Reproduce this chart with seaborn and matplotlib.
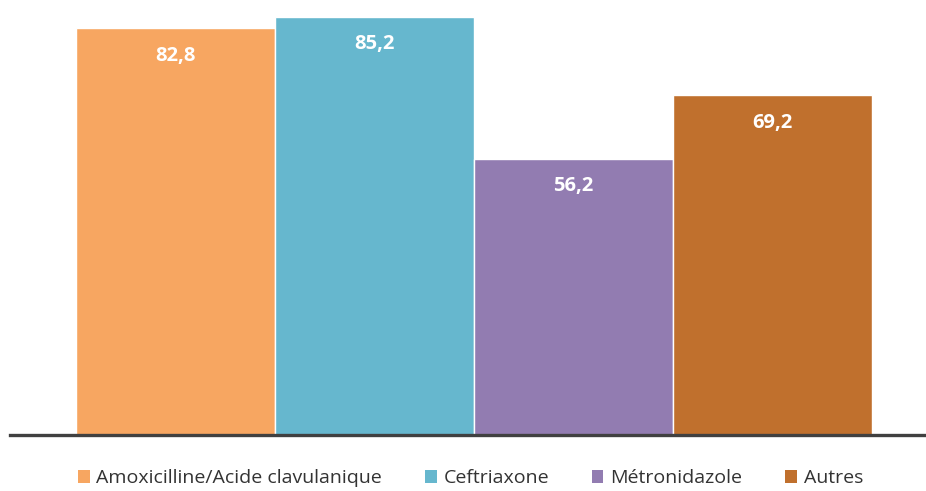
import matplotlib
matplotlib.use("Agg")
import matplotlib.pyplot as plt
import seaborn as sns
from matplotlib.patches import Patch

categories = ["Amoxicilline/Acide clavulanique", "Ceftriaxone", "Métronidazole", "Autres"]
values = [82.8, 85.2, 56.2, 69.2]
colors = ["#F7A661", "#66B7CE", "#927CB1", "#C0702D"]

sns.set_style("white")
plt.rcParams["font.family"] = ["Open Sans", "DejaVu Sans"]

fig = plt.figure(figsize=(9.26, 4.91), dpi=100)
ax = fig.add_axes([10 / 926, 56 / 491, 916 / 926, 435 / 491])

sns.barplot(x=categories, y=values, hue=categories, palette=colors,
            width=1.0, dodge=False, legend=False, saturation=1,
            edgecolor="white", linewidth=1.0, ax=ax)

# value labels inside top of each bar
for i, v in enumerate(values):
    ax.text(i, v - 5.6, f"{v:.1f}".replace(".", ","), ha="center", va="center",
            color="white", fontsize=14.5, fontweight="bold")

ax.set_xlim(-0.832, 3.771)
ax.set_ylim(0, 88.56)
ax.set_xticks([])
ax.set_yticks([])
ax.set_xlabel("")
ax.set_ylabel("")
for s in ["top", "right", "left"]:
    ax.spines[s].set_visible(False)
ax.spines["bottom"].set_color("#404040")
ax.spines["bottom"].set_linewidth(2.4)

handles = [Patch(facecolor=c, edgecolor="none") for c in colors]
fig.legend(handles, categories, loc="center", bbox_to_anchor=(0.508, 0.026),
           ncol=4, frameon=False, fontsize=14, handlelength=0.6, handleheight=0.6,
           handletextpad=0.35, columnspacing=2.2, labelcolor="#333333")

fig.savefig("out.png", dpi=100)
